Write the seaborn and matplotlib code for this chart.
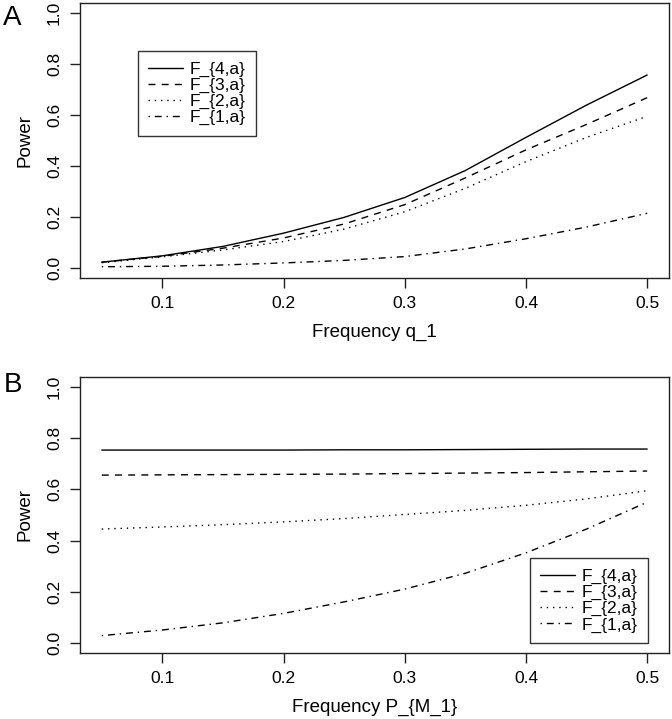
import pandas as pd
import matplotlib
matplotlib.use("Agg")
import matplotlib.pyplot as plt
import seaborn as sns

# panel A: power against frequency q_1
freq_q = [0.05, 0.10, 0.15, 0.20, 0.25, 0.30, 0.35, 0.40, 0.45, 0.50]
a_f4 = [0.022, 0.047, 0.084, 0.136, 0.198, 0.276, 0.382, 0.512, 0.639, 0.757]
a_f3 = [0.022, 0.045, 0.077, 0.117, 0.172, 0.248, 0.353, 0.463, 0.563, 0.668]
a_f2 = [0.020, 0.043, 0.070, 0.103, 0.152, 0.220, 0.312, 0.417, 0.512, 0.595]
a_f1 = [0.004, 0.006, 0.011, 0.019, 0.029, 0.044, 0.074, 0.114, 0.160, 0.214]

# panel B: power against frequency P_{M_1}
freq_p = [0.05, 0.10, 0.15, 0.20, 0.25, 0.30, 0.35, 0.40, 0.45, 0.50]
b_f4 = [0.754, 0.754, 0.754, 0.754, 0.755, 0.755, 0.756, 0.757, 0.758, 0.758]
b_f3 = [0.656, 0.657, 0.658, 0.659, 0.660, 0.662, 0.664, 0.666, 0.669, 0.672]
b_f2 = [0.445, 0.453, 0.462, 0.473, 0.486, 0.502, 0.518, 0.538, 0.563, 0.595]
b_f1 = [0.028, 0.050, 0.078, 0.115, 0.160, 0.210, 0.272, 0.352, 0.445, 0.550]

series_names = ["F_{4,a}", "F_{3,a}", "F_{2,a}", "F_{1,a}"]


def long_form(x, cols):
    frames = []
    for name, vals in zip(series_names, cols):
        frames.append(pd.DataFrame({"x": x, "power": vals, "series": name}))
    return pd.concat(frames, ignore_index=True)


df_a = long_form(freq_q, [a_f4, a_f3, a_f2, a_f1])
df_b = long_form(freq_p, [b_f4, b_f3, b_f2, b_f1])

sns.set_style("ticks")
plt.rcParams['font.family'] = ['Liberation Sans', 'DejaVu Sans']
plt.rcParams['text.color'] = 'black'
plt.rcParams['axes.labelcolor'] = 'black'
plt.rcParams['xtick.color'] = 'black'
plt.rcParams['ytick.color'] = 'black'

dash_map = {
    "F_{4,a}": "",
    "F_{3,a}": (5, 4.5),
    "F_{2,a}": (1, 3.5),
    "F_{1,a}": (1, 3.5, 5, 3.5),
}

fig = plt.figure(figsize=(6.72, 7.19), dpi=100)
ax_a = fig.add_axes([0.119, 0.6134, 0.8765, 0.3825])
ax_b = fig.add_axes([0.119, 0.0918, 0.8765, 0.3839])


def draw(ax, df, xlabel, legend_loc, anchor):
    sns.lineplot(data=df, x="x", y="power", style="series", dashes=dash_map,
                 color="black", linewidth=1.0, ax=ax, legend=False)
    ax.set_xlim(0.032, 0.518)
    ax.set_ylim(-0.04, 1.04)
    ax.set_xticks([0.1, 0.2, 0.3, 0.4, 0.5])
    ax.set_yticks([0.0, 0.2, 0.4, 0.6, 0.8, 1.0])
    ax.set_xticklabels(["0.1", "0.2", "0.3", "0.4", "0.5"])
    ax.set_yticklabels(["0.0", "0.2", "0.4", "0.6", "0.8", "1.0"],
                       rotation=90, va="center")
    ax.tick_params(direction="out", length=7, width=1, labelsize=12.5,
                   color="#222222", labelcolor="black", pad=6)
    for s in ax.spines.values():
        s.set_visible(True)
        s.set_linewidth(1.0)
        s.set_color("#222222")
    ax.set_xlabel(xlabel, fontsize=13.5, labelpad=9, color="black")
    ax.set_ylabel("Power", fontsize=13.5, labelpad=10, color="black")
    handles = [plt.Line2D([], [], color="black", linewidth=1.0,
                          linestyle="-" if dash_map[n] == "" else (0, dash_map[n]))
               for n in series_names]
    leg = ax.legend(handles, series_names, loc=legend_loc, bbox_to_anchor=anchor,
                    fontsize=12.5, frameon=True, fancybox=False, handlelength=2.0,
                    handletextpad=0.35, labelspacing=0.05, borderpad=0.6,
                    borderaxespad=0)
    leg.get_frame().set_edgecolor("black")
    leg.get_frame().set_linewidth(1.0)
    for t in leg.get_texts():
        t.set_color("black")


draw(ax_a, df_a, "Frequency q_1", "upper left", (0.0985, 0.825))
draw(ax_b, df_b, "Frequency P_{M_1}", "lower right", (0.964, 0.036))

fig.text(0.005, 0.975, "A", fontsize=20, va="center", ha="left")
fig.text(0.005, 0.465, "B", fontsize=20, va="center", ha="left")

fig.savefig("out.png", dpi=100)
